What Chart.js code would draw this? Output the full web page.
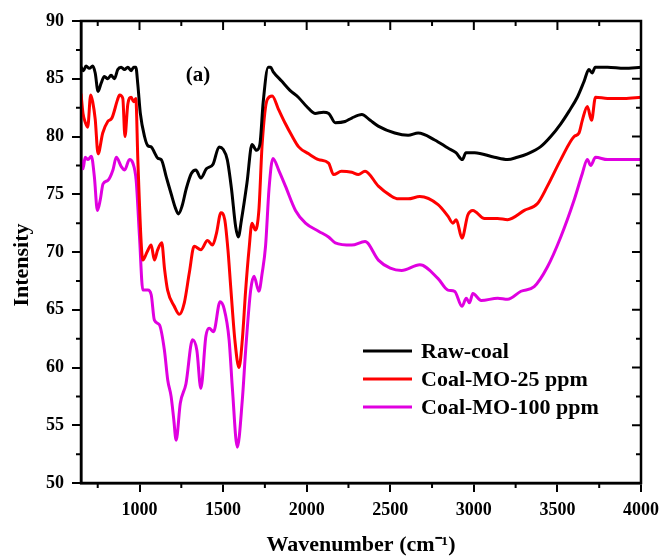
<!DOCTYPE html>
<html>
<head>
<meta charset="utf-8">
<script src="https://cdn.jsdelivr.net/npm/chart.js@4"></script>
<style>
  html, body { margin: 0; padding: 0; background: #fff; }
  canvas { display: block; }
</style>
</head>
<body>
<canvas id="ftir" width="667" height="560"></canvas>
<script>
// FTIR spectra (a)

const rawX = [650, 665, 680, 700, 720, 735, 752, 770, 790, 810, 830, 850, 870, 890, 910, 930, 950, 965, 978, 990,
  1005, 1030, 1050, 1070, 1090, 1110, 1130, 1160, 1190, 1215, 1233, 1255, 1280, 1310, 1337, 1367, 1400, 1440, 1476, 1500,
  1525, 1550, 1575, 1591, 1610, 1643, 1673, 1700, 1720, 1740, 1770, 1784, 1800, 1850, 1900, 1950, 2000, 2050, 2100, 2132,
  2171, 2230, 2270, 2330, 2380, 2428, 2527, 2607, 2667, 2766, 2845, 2893, 2931, 2953, 3005, 3123, 3202, 3260, 3321, 3398,
  3460, 3520, 3570, 3619, 3660, 3688, 3708, 3726, 3800, 3900, 4000];
const rawY = [86.0, 85.7, 86.1, 85.9, 86.1, 85.5, 83.9, 84.6, 85.2, 85.0, 85.3, 85.0, 85.8, 86.0, 85.8, 86.0, 85.7, 86.0, 86.0, 84.5,
  82.0, 80.0, 79.2, 79.1, 78.6, 78.1, 78.0, 76.5, 75.0, 73.8, 73.3, 74.0, 75.5, 76.8, 77.1, 76.4, 77.2, 77.6, 79.1, 78.9,
  78.0, 75.5, 72.2, 71.3, 72.8, 76.0, 79.3, 78.8, 79.3, 83.0, 86.0, 86.0, 85.6, 84.8, 84.0, 83.4, 82.6, 82.0, 82.1, 82.0,
  81.2, 81.3, 81.6, 81.9, 81.4, 80.9, 80.3, 80.1, 80.3, 79.7, 79.0, 78.6, 78.0, 78.6, 78.6, 78.2, 78.0, 78.2, 78.5, 79.1,
  80.0, 81.1, 82.2, 83.4, 84.8, 85.8, 85.5, 86.0, 86.0, 85.9, 86.0];

const mo25X = [650, 662, 676, 690, 708, 720, 735, 752, 780, 810, 835, 869, 881, 900, 913, 930, 950, 965, 978, 990,
  1010, 1020, 1045, 1070, 1089, 1109, 1133, 1150, 1168, 1208, 1238, 1268, 1298, 1327, 1367, 1407, 1437, 1460, 1487, 1510,
  1529, 1547, 1571, 1595, 1615, 1635, 1655, 1673, 1693, 1714, 1734, 1764, 1794, 1830, 1873, 1910, 1952, 2012, 2071, 2131,
  2161, 2208, 2270, 2309, 2349, 2429, 2500, 2548, 2607, 2677, 2786, 2845, 2875, 2895, 2929, 2964, 2994, 3064, 3142, 3202,
  3302, 3381, 3440, 3520, 3600, 3629, 3649, 3679, 3704, 3728, 3800, 3900, 4000];
const mo25Y = [83.7, 82.0, 81.2, 80.8, 83.6, 83.0, 81.5, 78.5, 80.3, 81.3, 81.6, 83.2, 83.6, 83.3, 80.0, 82.8, 83.4, 83.0, 83.3, 78.0,
  70.8, 69.3, 70.0, 70.6, 69.3, 70.2, 70.8, 68.5, 66.7, 65.3, 64.6, 65.6, 68.2, 70.5, 70.2, 71.0, 70.6, 71.6, 73.4, 72.8,
  70.2, 66.7, 62.3, 60.0, 62.4, 66.7, 70.2, 72.5, 71.9, 73.6, 79.4, 83.2, 83.5, 82.4, 81.1, 80.1, 79.1, 78.5, 78.0, 77.7,
  76.7, 77.0, 76.9, 76.7, 77.0, 75.7, 74.9, 74.6, 74.6, 74.8, 74.1, 73.1, 72.5, 72.8, 71.2, 73.2, 73.6, 72.9, 72.9, 72.8,
  73.6, 74.2, 75.7, 78.0, 80.0, 80.3, 81.4, 82.6, 81.4, 83.4, 83.3, 83.3, 83.4];

const mo100X = [650, 662, 675, 692, 712, 730, 748, 765, 782, 811, 841, 861, 891, 911, 940, 960, 980, 1000, 1020, 1050,
  1070, 1089, 1119, 1149, 1169, 1189, 1205, 1219, 1244, 1278, 1317, 1343, 1367, 1397, 1417, 1443, 1482, 1506, 1536, 1556,
  1585, 1615, 1635, 1665, 1685, 1714, 1734, 1754, 1775, 1798, 1835, 1873, 1933, 1993, 2071, 2131, 2171, 2270, 2349, 2429,
  2500, 2568, 2677, 2786, 2845, 2885, 2929, 2955, 2974, 2994, 3044, 3143, 3202, 3282, 3361, 3440, 3520, 3600, 3649, 3679,
  3699, 3728, 3800, 3900, 4000];
const mo100Y = [78.0, 77.2, 78.2, 78.0, 78.3, 76.5, 73.6, 74.5, 75.9, 76.2, 77.1, 78.2, 77.4, 77.1, 78.0, 77.7, 76.2, 71.3, 66.7, 66.7,
  66.3, 64.1, 63.7, 61.5, 58.9, 57.5, 55.5, 53.7, 56.9, 58.6, 62.4, 61.5, 58.2, 62.7, 63.4, 63.1, 65.7, 65.1, 62.4, 58.1,
  53.1, 57.2, 61.5, 66.7, 67.9, 66.6, 68.2, 70.5, 75.5, 78.1, 77.0, 75.7, 73.6, 72.5, 71.8, 71.3, 70.8, 70.6, 70.9, 69.3,
  68.6, 68.4, 68.9, 67.7, 66.7, 66.6, 65.3, 66.0, 65.6, 66.4, 65.8, 66.0, 65.9, 66.6, 67.0, 68.7, 71.3, 74.5, 76.8, 78.0,
  77.5, 78.2, 78.0, 78.0, 78.0];

const seriesNames = ["Raw-coal", "Coal-MO-25 ppm", "Coal-MO-100 ppm"];
const seriesColors = ["#000000", "#ff0000", "#e000e0"];

const xTicks = [1000, 1500, 2000, 2500, 3000, 3500, 4000];
const xMinor = [750, 1250, 1750, 2250, 2750, 3250, 3750];
const yTicks = [50, 55, 60, 65, 70, 75, 80, 85, 90];
const yMinor = [52.5, 57.5, 62.5, 67.5, 72.5, 77.5, 82.5, 87.5];

const SERIF = '"Liberation Serif", "Times New Roman", serif';

function toPoints(xs, ys) {
  return xs.map((x, i) => ({ x: x, y: ys[i] }));
}

// 枠・副目盛・凡例・(a) をまとめて描く
const decorations = {
  id: "decorations",
  beforeDraw(chart) {
    const c = chart.ctx;
    c.save();
    c.fillStyle = "#fff";
    c.fillRect(0, 0, chart.width, chart.height);
    c.restore();
  },
  afterDraw(chart) {
    const c = chart.ctx;
    const a = chart.chartArea;
    const sx = chart.scales.x, sy = chart.scales.y;
    c.save();
    c.strokeStyle = "#000";
    c.lineWidth = 2;

    // minor ticks bottom (out) / top (in), major top (in)
    c.beginPath();
    xMinor.forEach(v => {
      const px = sx.getPixelForValue(v);
      c.moveTo(px, a.bottom); c.lineTo(px, a.bottom + 5);
      c.moveTo(px, a.top); c.lineTo(px, a.top + 5);
    });
    xTicks.forEach(v => {
      const px = sx.getPixelForValue(v);
      c.moveTo(px, a.top); c.lineTo(px, a.top + 9);
    });
    yMinor.forEach(v => {
      const py = sy.getPixelForValue(v);
      c.moveTo(a.left, py); c.lineTo(a.left - 5, py);
      c.moveTo(a.right, py); c.lineTo(a.right - 5, py);
    });
    yTicks.forEach(v => {
      const py = sy.getPixelForValue(v);
      c.moveTo(a.right, py); c.lineTo(a.right - 9, py);
    });
    c.stroke();

    c.lineWidth = 2.5;
    c.strokeRect(a.left, a.top, a.right - a.left, a.bottom - a.top);

    // y title
    c.fillStyle = "#000";
    c.font = "bold 22px " + SERIF;
    c.textAlign = "center";
    c.textBaseline = "middle";
    c.translate(22, 265);
    c.rotate(-Math.PI / 2);
    c.fillText("Intensity", 0, 0);
    c.setTransform(1, 0, 0, 1, 0, 0);

    // panel label
    c.font = "bold 21px " + SERIF;
    c.fillText("(a)", 198, 76);

    // legend
    c.textAlign = "left";
    c.font = "bold 22px " + SERIF;
    const rows = [351, 379, 407];
    chart.data.datasets.forEach((ds, i) => {
      c.strokeStyle = ds.borderColor;
      c.lineWidth = 3;
      c.beginPath();
      c.moveTo(363, rows[i]);
      c.lineTo(412, rows[i]);
      c.stroke();
      c.fillStyle = "#000";
      c.fillText(ds.label, 421, rows[i] + 1);
    });
    c.restore();
  }
};

const tickFont = { family: SERIF, size: 18, weight: "bold" };

new Chart(document.getElementById("ftir"), {
  type: "line",
  data: {
    datasets: [
      { label: seriesNames[0], data: toPoints(rawX, rawY), borderColor: seriesColors[0] },
      { label: seriesNames[1], data: toPoints(mo25X, mo25Y), borderColor: seriesColors[1] },
      { label: seriesNames[2], data: toPoints(mo100X, mo100Y), borderColor: seriesColors[2] },
    ].map(ds => Object.assign(ds, {
      borderWidth: 3, pointRadius: 0, fill: false, cubicInterpolationMode: "monotone"
    }))
  },
  options: {
    responsive: false,
    animation: false,
    layout: { padding: { top: 21, right: 22, bottom: 0, left: 0 } },
    plugins: { legend: { display: false }, tooltip: { enabled: false } },
    scales: {
      x: {
        type: "linear",
        min: 650,
        max: 4000,
        afterBuildTicks: s => { s.ticks = xTicks.map(v => ({ value: v })); },
        afterFit: s => { s.height = 77; },
        grid: { drawOnChartArea: false, drawTicks: true, tickLength: 9, color: "#000", lineWidth: 2 },
        border: { display: true, color: "#000", width: 2.5 },
        ticks: { color: "#000", font: tickFont, padding: 8, maxRotation: 0, autoSkip: false, callback: v => String(v) },
        title: {
          display: true,
          text: "Wavenumber (cm⁻¹)",
          color: "#000",
          font: { family: SERIF, size: 22, weight: "bold" },
          padding: { top: 0, bottom: 1 }
        }
      },
      y: {
        min: 50,
        max: 90,
        afterBuildTicks: s => { s.ticks = yTicks.map(v => ({ value: v })); },
        afterFit: s => { s.width = 81; },
        grid: { drawOnChartArea: false, drawTicks: true, tickLength: 9, color: "#000", lineWidth: 2 },
        border: { display: true, color: "#000", width: 2.5 },
        ticks: { color: "#000", font: tickFont, padding: 8, callback: v => String(v) }
      }
    }
  },
  plugins: [decorations]
});
</script>
</body>
</html>
